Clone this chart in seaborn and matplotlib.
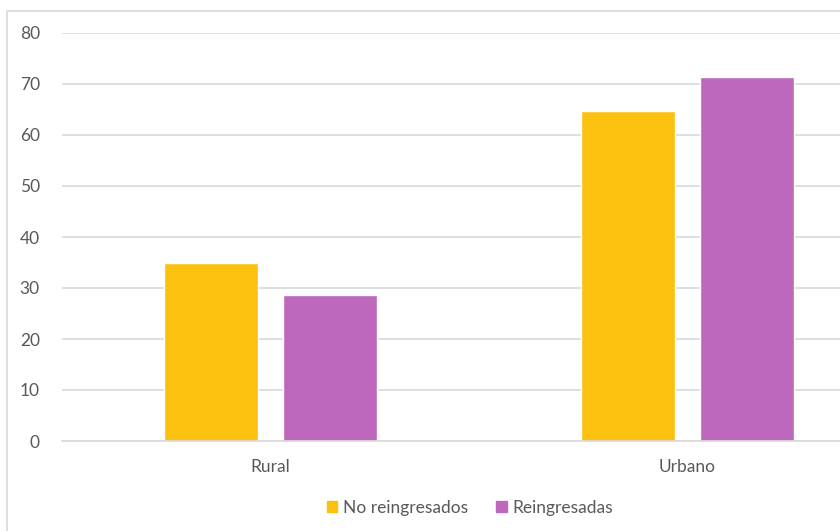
import matplotlib
matplotlib.use("Agg")
import matplotlib.pyplot as plt
from matplotlib.patches import Rectangle
import seaborn as sns
import pandas as pd

categories = ["Rural", "Urbano"]
series_names = ["No reingresados", "Reingresadas"]
no_reingresados = [35.0, 64.8]
reingresadas = [28.6, 71.3]
y_ticks = [0, 10, 20, 30, 40, 50, 60, 70, 80]

colors = ["#FCC10F", "#BD68BC"]
text_color = "#595959"

df = pd.DataFrame({
    "zona": categories * 2,
    "grupo": [series_names[0]] * len(categories) + [series_names[1]] * len(categories),
    "valor": no_reingresados + reingresadas,
})

sns.set_theme(style="white")
plt.rcParams["font.family"] = ["Lato", "DejaVu Sans"]

W, H = 840, 531
fig = plt.figure(figsize=(W / 100, H / 100), dpi=100)

# outer chart frame
fig.patches.append(Rectangle((7 / W, -0.2), 1.2, 1.2 - 11 / H,
                             transform=fig.transFigure, fill=False,
                             edgecolor="#D9D9D9", linewidth=1.2))

left, right = 62 / W, 896 / W
top, bottom = 1 - 33 / H, 1 - 441 / H
ax = fig.add_axes([left, bottom, right - left, top - bottom])

sns.barplot(data=df, x="zona", y="valor", hue="grupo", palette=colors,
            width=0.571, gap=0.21, saturation=1, ax=ax, legend=False)

ax.set_xlim(-0.5, 1.5)
ax.set_ylim(0, 80)
ax.set_yticks(y_ticks)
ax.set_yticklabels([str(t) for t in y_ticks])
ax.yaxis.grid(True, color="#D9D9D9", linewidth=1.2)
ax.set_axisbelow(True)
for s in ["top", "right", "left"]:
    ax.spines[s].set_visible(False)
ax.spines["bottom"].set_color("#D9D9D9")
ax.spines["bottom"].set_linewidth(1.2)
ax.tick_params(axis="both", length=0, colors=text_color, labelsize=12.5)
ax.tick_params(axis="y", pad=16)
ax.tick_params(axis="x", pad=13)
ax.set_xlabel("")
ax.set_ylabel("")

handles = [Rectangle((0, 0), 1, 1, color=c) for c in colors]
fig.legend(handles, series_names, loc="center", bbox_to_anchor=(470 / W, 1 - 508 / H),
           ncol=2, frameon=False, fontsize=12.5, labelcolor=text_color,
           handlelength=0.6, handleheight=0.6, handletextpad=0.35, columnspacing=1.6)

fig.savefig("out.png", dpi=100)
